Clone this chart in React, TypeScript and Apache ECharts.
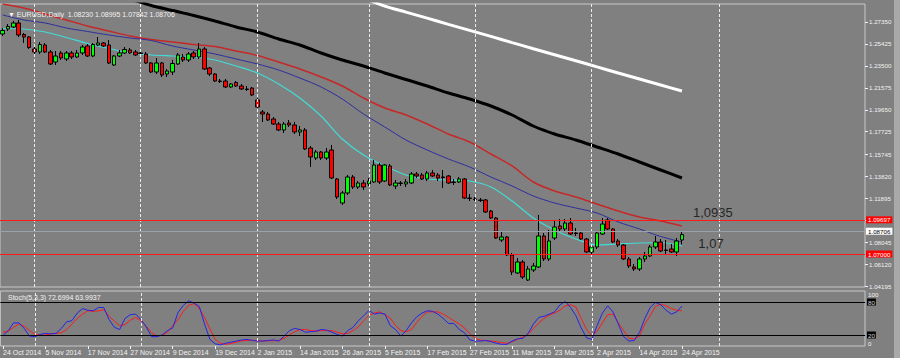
import React, { useEffect, useRef } from 'react';
import * as echarts from 'echarts';

// ---------- categories (trading days, then future calendar days as MT4 does) ----------
const START_DATE = '2014-10-24';
const LAST_TRADING_DATE = '2015-04-24';
const HOLIDAYS = ['2014-12-25', '2015-01-01'];
const TOTAL_SLOTS = 163;
const MONTHS = ['Jan', 'Feb', 'Mar', 'Apr', 'May', 'Jun', 'Jul', 'Aug', 'Sep', 'Oct', 'Nov', 'Dec'];

// ---------- EURUSD daily candles ----------
const OPENS = [
  1.26297, 1.26736, 1.26911, 1.27262, 1.26253, 1.26034, 1.24982, 1.24719, 1.25333, 1.24719,
  1.23842, 1.24631, 1.24105, 1.24631, 1.24280, 1.24631, 1.25245, 1.24368, 1.25333, 1.25508,
  1.25333, 1.23579, 1.24368, 1.24631, 1.24894, 1.24719, 1.24631, 1.24543, 1.23754, 1.22965,
  1.23754, 1.22789, 1.22965, 1.23666, 1.24280, 1.24017, 1.24631, 1.24280, 1.24982, 1.23315,
  1.22789, 1.22175, 1.22175, 1.21649, 1.22044, 1.21737, 1.21474, 1.21561, 1.20509, 1.19457,
  1.19281, 1.18843, 1.18404, 1.17878, 1.18492, 1.18317, 1.17703, 1.17878, 1.16299, 1.15422,
  1.15949, 1.15422, 1.16124, 1.13581, 1.11476, 1.12353, 1.13756, 1.12879, 1.13230, 1.13142,
  1.13318, 1.14809, 1.13405, 1.14721, 1.12967, 1.13230, 1.13142, 1.13230, 1.14019, 1.13932,
  1.13581, 1.14107, 1.13932, 1.13756, 1.13844, 1.13318, 1.13318, 1.13581, 1.11914, 1.11827,
  1.11739, 1.11739, 1.10774, 1.10160, 1.08231, 1.08494, 1.06916, 1.05337, 1.06302, 1.04723,
  1.05600, 1.05863, 1.08582, 1.06565, 1.08406, 1.09459, 1.09196, 1.09722, 1.08845, 1.08845,
  1.08319, 1.07179, 1.07617, 1.08757, 1.09985, 1.09196, 1.08143, 1.07793, 1.06565, 1.05863,
  1.05688, 1.06565, 1.06828, 1.07617, 1.08056, 1.07354, 1.07442, 1.07179, 1.08230,
];
const HIGHS = [
  1.26823, 1.27174, 1.27437, 1.27525, 1.26385, 1.26122, 1.25157, 1.25596, 1.25508, 1.24894,
  1.24806, 1.24806, 1.24806, 1.24806, 1.24894, 1.25333, 1.25420, 1.25508, 1.26034, 1.25596,
  1.25771, 1.24456, 1.24894, 1.25157, 1.25069, 1.24894, 1.24894, 1.24719, 1.23842, 1.24192,
  1.23842, 1.23228, 1.24017, 1.24631, 1.24543, 1.24719, 1.24806, 1.25508, 1.25157, 1.23403,
  1.22877, 1.22351, 1.22351, 1.22000, 1.22175, 1.21912, 1.21737, 1.21649, 1.20684, 1.19632,
  1.19457, 1.19018, 1.18580, 1.18580, 1.18755, 1.18580, 1.18229, 1.18053, 1.16475, 1.16124,
  1.16036, 1.16299, 1.16563, 1.13668, 1.12528, 1.13932, 1.13932, 1.13405, 1.13493, 1.13668,
  1.15247, 1.14984, 1.14896, 1.14896, 1.13493, 1.13405, 1.13581, 1.14195, 1.14195, 1.14107,
  1.14282, 1.14370, 1.14107, 1.14370, 1.13932, 1.13581, 1.13756, 1.13668, 1.12265, 1.12002,
  1.11914, 1.11827, 1.10862, 1.10248, 1.09020, 1.08582, 1.07091, 1.06652, 1.06477, 1.05951,
  1.06214, 1.10424, 1.08845, 1.09108, 1.09897, 1.10073, 1.10073, 1.10160, 1.09283, 1.09020,
  1.08406, 1.07880, 1.09020, 1.10160, 1.10160, 1.09283, 1.08319, 1.07880, 1.06740, 1.06126,
  1.06740, 1.07179, 1.07793, 1.08582, 1.08319, 1.08231, 1.07880, 1.08406, 1.08995,
];
const LOWS = [
  1.26122, 1.26560, 1.26823, 1.26034, 1.25508, 1.24982, 1.24543, 1.24543, 1.24631, 1.23579,
  1.23579, 1.24017, 1.23929, 1.24105, 1.24192, 1.24456, 1.24280, 1.24280, 1.25245, 1.25157,
  1.23666, 1.23491, 1.24280, 1.24543, 1.24543, 1.24368, 1.24368, 1.23666, 1.22877, 1.22789,
  1.22526, 1.22526, 1.22702, 1.23579, 1.23842, 1.23842, 1.24105, 1.24105, 1.23140, 1.22614,
  1.22088, 1.22000, 1.21561, 1.21561, 1.21649, 1.21386, 1.21298, 1.20860, 1.19808, 1.18580,
  1.18667, 1.18317, 1.17790, 1.17615, 1.18141, 1.17527, 1.17352, 1.16124, 1.14633, 1.15247,
  1.15247, 1.15247, 1.13581, 1.11827, 1.11301, 1.12178, 1.12704, 1.12704, 1.12616, 1.12967,
  1.13230, 1.13142, 1.13318, 1.12967, 1.12704, 1.12967, 1.12879, 1.13142, 1.13668, 1.13493,
  1.13405, 1.13756, 1.13405, 1.12791, 1.13142, 1.13055, 1.13230, 1.11827, 1.11651, 1.11651,
  1.11564, 1.10599, 1.10073, 1.08319, 1.08056, 1.06828, 1.05162, 1.05249, 1.04811, 1.04635,
  1.05425, 1.05775, 1.06389, 1.06389, 1.08231, 1.08933, 1.09020, 1.08670, 1.08582, 1.08231,
  1.07091, 1.07003, 1.07442, 1.08670, 1.09108, 1.07968, 1.07617, 1.06477, 1.05775, 1.05512,
  1.05512, 1.06302, 1.06740, 1.07442, 1.07179, 1.06916, 1.07091, 1.06828, 1.07842,
];
const CLOSES = [
  1.26604, 1.26955, 1.27262, 1.26210, 1.26034, 1.25113, 1.24719, 1.25376, 1.24719, 1.23666,
  1.24368, 1.24192, 1.24631, 1.24280, 1.24631, 1.25157, 1.24368, 1.25376, 1.25508, 1.25245,
  1.23754, 1.24368, 1.24631, 1.24938, 1.24631, 1.24456, 1.24587, 1.23754, 1.22965, 1.23754,
  1.22702, 1.23052, 1.23710, 1.24456, 1.24017, 1.24543, 1.24280, 1.24982, 1.23228, 1.22789,
  1.22175, 1.22131, 1.21649, 1.21912, 1.21737, 1.21474, 1.21430, 1.20948, 1.19895, 1.19281,
  1.18755, 1.18404, 1.17878, 1.18404, 1.18317, 1.17703, 1.17878, 1.16212, 1.15510, 1.15949,
  1.15422, 1.15949, 1.13668, 1.12002, 1.12353, 1.13756, 1.12879, 1.13230, 1.12879, 1.13405,
  1.14809, 1.13318, 1.14809, 1.13055, 1.13230, 1.13186, 1.13318, 1.14019, 1.13844, 1.13581,
  1.14107, 1.13844, 1.13668, 1.13712, 1.13230, 1.13274, 1.13581, 1.11914, 1.11871, 1.11783,
  1.11695, 1.10687, 1.10160, 1.08406, 1.08494, 1.06916, 1.05425, 1.06302, 1.04986, 1.05688,
  1.05951, 1.08582, 1.06565, 1.08143, 1.09371, 1.09196, 1.09722, 1.08757, 1.08801, 1.08319,
  1.07179, 1.07617, 1.08845, 1.09634, 1.09196, 1.08056, 1.07793, 1.06565, 1.05951, 1.05688,
  1.06565, 1.06828, 1.07617, 1.08056, 1.07266, 1.07310, 1.07179, 1.08143, 1.08706,
];

// ---------- moving averages, read every 4 bars ----------
const MA_IDX = [0, 4, 8, 12, 16, 20, 24, 28, 32, 36, 40, 44, 48, 52, 56, 60, 64, 68, 72, 76, 80, 84, 88, 92, 96, 100, 104, 108, 112, 116, 120, 124, 128];
const MA_CYAN = [1.26780, 1.26736, 1.26473, 1.25991, 1.25465, 1.25026, 1.24632, 1.24456, 1.24368, 1.24281, 1.24017, 1.23491, 1.22877, 1.21913, 1.20685, 1.19106, 1.17089, 1.15686, 1.14721, 1.13932, 1.13581, 1.13493, 1.13406, 1.12880, 1.11652, 1.10161, 1.09109, 1.08319, 1.07793, 1.07881, 1.07968, 1.08012, 1.07705];
const MA_BLUE = [1.27964, 1.27525, 1.27262, 1.26824, 1.26517, 1.26210, 1.25947, 1.25728, 1.25245, 1.24894, 1.24544, 1.24105, 1.23667, 1.23140, 1.22439, 1.21650, 1.20597, 1.19282, 1.18142, 1.17002, 1.16124, 1.15335, 1.14634, 1.13757, 1.12967, 1.12090, 1.11476, 1.11038, 1.10599, 1.09810, 1.09196, 1.08538, 1.08056];
const MA_RED = [1.28929, 1.28578, 1.28052, 1.27525, 1.26999, 1.26561, 1.26122, 1.25815, 1.25596, 1.25377, 1.25201, 1.24807, 1.24412, 1.23842, 1.23228, 1.22527, 1.21737, 1.20685, 1.19808, 1.19194, 1.18404, 1.17528, 1.16826, 1.15774, 1.14721, 1.13318, 1.12529, 1.12003, 1.11389, 1.10775, 1.10249, 1.09898, 1.09459];
const MA_BLACK = [null, null, null, null, null, null, 1.29367, 1.28797, 1.28359, 1.27920, 1.27438, 1.26912, 1.26473, 1.25859, 1.25333, 1.24632, 1.24017, 1.23491, 1.22877, 1.22307, 1.21737, 1.21123, 1.20597, 1.19983, 1.19194, 1.18229, 1.17528, 1.17001, 1.16388, 1.15774, 1.15072, 1.14370, 1.13669];
const MA_WHITE = [null, null, null, null, null, null, null, null, null, null, null, null, null, null, null, null, null, 1.29450, 1.28744, 1.28218, 1.27692, 1.27139, 1.26613, 1.26087, 1.25543, 1.25008, 1.24482, 1.23956, 1.23412, 1.22877, 1.22351, 1.21825, 1.21299];

// ---------- stochastic (5,3,3) ----------
const STOCH_K = [
  19, 28, 42, 42, 32, 18, 17, 21, 23, 22, 23, 32, 44, 46, 60, 68, 65, 64, 70, 70,
  48, 34, 30, 50, 57, 58, 48, 35, 17, 17, 20, 28, 33, 61, 74, 82, 78, 72, 40, 12,
  4, 2, 5, 7, 9, 11, 12, 10, 9, 9, 10, 11, 9, 18, 28, 32, 30, 25, 26, 27,
  30, 29, 25, 21, 18, 28, 34, 46, 55, 65, 58, 60, 58, 37, 30, 18, 28, 42, 53, 60,
  64, 63, 58, 50, 41, 41, 30, 24, 11, 9, 9, 10, 8, 5, 3, 3, 9, 13, 14, 23,
  40, 52, 54, 58, 62, 75, 81, 70, 55, 33, 15, 12, 37, 60, 73, 62, 40, 17, 9, 10,
  25, 50, 70, 79, 75, 65, 58, 62, 72.6994,
];
const STOCH_D = [
  25, 27, 34, 40, 36, 28, 21, 20, 20, 22, 23, 24, 30, 40, 50, 58, 64, 63, 64, 66,
  54, 45, 37, 39, 47, 52, 46, 36, 24, 18, 20, 25, 37, 48, 63, 74, 77, 68, 52, 31,
  12, 5, 3, 4.5, 7, 9.5, 10, 10.5, 9.5, 9, 9.5, 9.5, 10, 14, 20, 26, 30, 30, 28, 27,
  28, 28, 28, 25, 22, 23, 28, 35, 46, 56, 60, 62, 57, 51, 37, 28, 26, 30, 43, 54,
  62, 62, 62, 58, 52, 46, 40, 33, 22, 14, 10.5, 10, 9, 8, 6, 5, 8, 12, 16, 21,
  32, 42, 50, 56, 60, 65, 73, 75, 71, 50, 30, 19, 27, 42, 57, 58, 42, 28, 14, 13,
  18, 40, 55, 72, 76, 73, 68, 65, 63.9937,
];
const STOCH_LEVELS = [80, 20];

// ---------- axes / annotations ----------
const PRICE_TICKS = [1.27350, 1.25425, 1.23500, 1.21575, 1.19650, 1.17725, 1.15745, 1.13820, 1.11895, 1.09970, 1.08045, 1.06120, 1.04195];
const PRICE_MIN = 1.04109;
const PRICE_MAX = 1.28928;
const RED_LEVELS = [1.09697, 1.07000];
const ANNOTATIONS = [
  { text: '1,0935', index: 130, price: 1.10643 },
  { text: '1,07', index: 131, price: 1.07924 },
];

const FONT = '"Liberation Sans Narrow", "Liberation Sans", Arial, sans-serif';
const LIGHT = '#f2f2f2';
const FRAME = '#c8c8c8';
const AXIS_FS = 6.2;

function buildCategories(): string[] {
  const out: string[] = [];
  const d = new Date(START_DATE + 'T00:00:00Z');
  const end = new Date(LAST_TRADING_DATE + 'T00:00:00Z');
  const fmt = (x: Date) => `${x.getUTCDate()} ${MONTHS[x.getUTCMonth()]} ${x.getUTCFullYear()}`;
  while (d <= end) {
    const iso = d.toISOString().slice(0, 10);
    const wd = d.getUTCDay();
    if (wd !== 0 && wd !== 6 && !HOLIDAYS.includes(iso)) out.push(fmt(d));
    d.setUTCDate(d.getUTCDate() + 1);
  }
  while (out.length < TOTAL_SLOTS) {
    out.push(fmt(d));
    d.setUTCDate(d.getUTCDate() + 1);
  }
  return out;
}

function buildOption() {
  const cats = buildCategories();
  const n = OPENS.length;
  const last = n - 1;
  const monthStarts: string[] = [];
  for (let i = 1; i < cats.length; i++) {
    if (cats[i].split(' ')[1] !== cats[i - 1].split(' ')[1]) monthStarts.push(cats[i]);
  }
  const showIdx = (idx: number) => idx % 8 === 0 && idx < n;
  const candles = OPENS.map((o, i) => [o, CLOSES[i], LOWS[i], HIGHS[i]]);
  const ma = (arr: (number | null)[]) =>
    MA_IDX.map((ix, k) => (arr[k] == null ? null : [ix, arr[k]])).filter((p) => p !== null);
  const vLines = monthStarts.map((c) => ({
    xAxis: c,
    lineStyle: { color: '#ececec', type: [3, 2], width: 1 },
    label: { show: false },
  }));
  const priceTag = (v: number, bg: string, fg: string, line: string) => ({
    yAxis: v,
    lineStyle: { color: line, width: 1, type: 'solid' },
    label: {
      show: true,
      position: 'end',
      distance: 1,
      formatter: () => v.toFixed(5),
      backgroundColor: bg,
      color: fg,
      fontFamily: FONT,
      fontSize: AXIS_FS,
      padding: [1, 2, 0, 2],
    },
  });
  const maLine = (name: string, arr: (number | null)[], color: string, width: number) => ({
    name,
    type: 'line',
    xAxisIndex: 0,
    yAxisIndex: 0,
    data: ma(arr),
    symbol: 'none',
    smooth: 0.3,
    silent: true,
    lineStyle: { color, width },
    z: 3,
  });

  return {
    animation: false,
    backgroundColor: '#808080',
    textStyle: { fontFamily: FONT },
    title: [
      {
        text: `▼ EURUSD,Daily  ${OPENS[last].toFixed(5)} ${HIGHS[last].toFixed(5)} ${LOWS[last].toFixed(5)} ${CLOSES[last].toFixed(5)}`,
        left: 3,
        top: 6,
        textStyle: { color: LIGHT, fontSize: 7, fontWeight: 'normal', fontFamily: FONT },
      },
      {
        text: `Stoch(5,3,3) ${STOCH_K[last].toFixed(4)} ${STOCH_D[last].toFixed(4)}`,
        left: 3,
        top: 289,
        textStyle: { color: LIGHT, fontSize: 7, fontWeight: 'normal', fontFamily: FONT },
      },
    ],
    graphic: {
      elements: [
        { type: 'rect', x: 894, y: 0, z: -10, shape: { x: 0, y: 0, width: 6, height: 358 }, style: { fill: '#a9a9a9' }, silent: true },
      ],
    },
    grid: [
      { left: 0, right: 35, top: 4, height: 283, show: true, borderColor: FRAME, borderWidth: 1, backgroundColor: 'transparent' },
      { left: 0, right: 35, top: 291, height: 55, show: true, borderColor: FRAME, borderWidth: 1, backgroundColor: 'transparent' },
    ],
    xAxis: [
      {
        type: 'category',
        gridIndex: 0,
        data: cats,
        boundaryGap: true,
        axisLine: { show: false },
        axisTick: { show: false },
        axisLabel: { show: false },
        splitLine: { show: false },
      },
      {
        type: 'category',
        gridIndex: 1,
        data: cats,
        boundaryGap: true,
        axisLine: { show: false },
        axisTick: { show: true, alignWithLabel: true, interval: (i: number) => showIdx(i), length: 3, lineStyle: { color: LIGHT } },
        axisLabel: {
          show: true,
          interval: (i: number) => showIdx(i),
          align: 'left',
          color: LIGHT,
          fontSize: 7,
          fontFamily: FONT,
          margin: 3,
        },
        splitLine: { show: false },
      },
    ],
    yAxis: [
      {
        type: 'value',
        gridIndex: 0,
        position: 'right',
        min: PRICE_MIN,
        max: PRICE_MAX,
        axisLine: { show: false },
        axisTick: { show: true, customValues: PRICE_TICKS, length: 3, lineStyle: { color: LIGHT } },
        axisLabel: {
          customValues: PRICE_TICKS,
          formatter: (v: number) => v.toFixed(5),
          color: LIGHT,
          fontSize: AXIS_FS,
          fontFamily: FONT,
          margin: 4,
        },
        splitLine: { show: false },
      },
      {
        type: 'value',
        gridIndex: 1,
        position: 'right',
        min: 0,
        max: 100,
        axisLine: { show: false },
        axisTick: { show: false },
        axisLabel: {
          customValues: [0, 100],
          color: LIGHT,
          fontSize: AXIS_FS,
          fontFamily: FONT,
          margin: 3,
          verticalAlignMinLabel: 'bottom',
          verticalAlignMaxLabel: 'top',
        },
        splitLine: { show: false },
      },
    ],
    series: [
      maLine('MA white', MA_WHITE, '#ffffff', 3),
      maLine('MA black', MA_BLACK, '#000000', 3),
      maLine('MA red', MA_RED, '#c62828', 1.5),
      maLine('MA blue', MA_BLUE, '#2e2e9e', 1),
      maLine('MA cyan', MA_CYAN, '#40dcd6', 1.2),
      {
        name: 'EURUSD',
        type: 'candlestick',
        xAxisIndex: 0,
        yAxisIndex: 0,
        data: candles,
        barWidth: 4,
        z: 4,
        itemStyle: {
          color: '#00ff00',
          color0: '#ff0000',
          borderColor: '#000000',
          borderColor0: '#000000',
          borderWidth: 1,
        },
        markLine: {
          silent: true,
          symbol: ['none', 'none'],
          animation: false,
          data: [
            ...vLines,
            priceTag(RED_LEVELS[0], '#ff0000', '#ffffff', '#ff1a1a'),
            priceTag(CLOSES[last], '#ffffff', '#000000', '#9aa2aa'),
            priceTag(RED_LEVELS[1], '#ff0000', '#ffffff', '#ff1a1a'),
          ],
        },
        markPoint: {
          silent: true,
          symbol: 'circle',
          symbolSize: 1,
          itemStyle: { color: 'rgba(0,0,0,0)' },
          data: ANNOTATIONS.map((a) => ({
            coord: [cats[a.index], a.price],
            label: {
              show: true,
              position: 'right',
              distance: 0,
              formatter: a.text,
              color: '#262626',
              fontSize: 13,
              fontFamily: FONT,
            },
          })),
        },
      },
      {
        name: 'Stoch main',
        type: 'line',
        xAxisIndex: 1,
        yAxisIndex: 1,
        data: STOCH_K,
        symbol: 'none',
        silent: true,
        lineStyle: { color: '#2424e8', width: 1 },
        z: 4,
        markLine: {
          silent: true,
          symbol: ['none', 'none'],
          data: [
            ...vLines,
            ...STOCH_LEVELS.map((lv) => ({
              yAxis: lv,
              lineStyle: { color: '#000000', width: 1, type: 'solid' },
              label: {
                show: true,
                position: 'end',
                distance: 2,
                formatter: String(lv),
                backgroundColor: '#000000',
                color: '#d8d8d8',
                fontSize: AXIS_FS,
                fontFamily: FONT,
                padding: [1, 1, 0, 1],
              },
            })),
          ],
        },
      },
      {
        name: 'Stoch signal',
        type: 'line',
        xAxisIndex: 1,
        yAxisIndex: 1,
        data: STOCH_D,
        symbol: 'none',
        silent: true,
        lineStyle: { color: '#ff1a1a', width: 1 },
        z: 3,
      },
    ],
  };
}

export default function App() {
  const ref = useRef<HTMLDivElement>(null);
  useEffect(() => {
    if (!ref.current) return;
    const chart = echarts.init(ref.current, undefined, { renderer: 'svg' });
    chart.setOption(buildOption() as any);
    return () => chart.dispose();
  }, []);
  return (
    <div
      ref={ref}
      style={{ position: 'fixed', left: 0, top: 0, width: 900, height: 358, background: '#808080' }}
    />
  );
}
